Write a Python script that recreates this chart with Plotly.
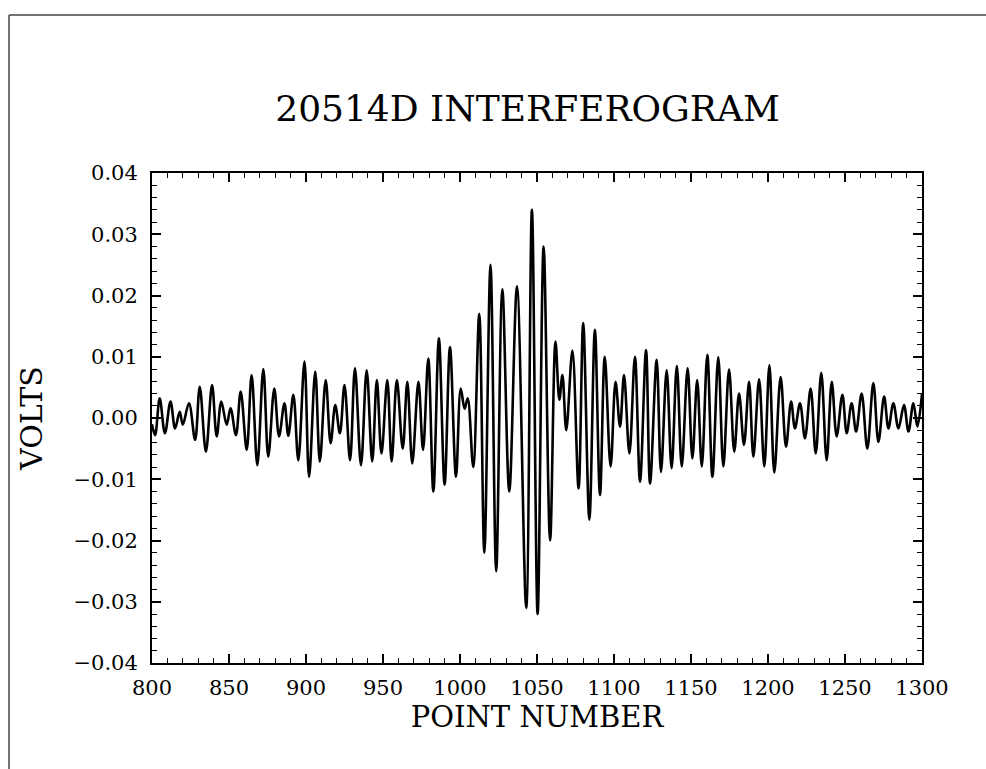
import plotly.graph_objects as go

# Extrema of the interferogram trace (point number, volts)
point_number = [
    800, 802, 805, 808.4, 812, 815, 818, 820, 824, 828, 831, 835, 839, 842, 845, 848.5,
    851, 854.5, 857.6, 861.5, 864.7, 868.4, 872.3, 875.5, 879.4, 882.5, 886, 888.5,
    891.8, 895, 899, 902, 906, 909, 912.8, 916, 919, 922, 925, 928.6, 931.8, 935.7,
    939.4, 943, 946, 949, 952.8, 955.6, 959, 962.8, 965.8, 969, 973, 976, 979.4,
    982.7, 986.3, 990, 993.5, 997.4, 1000.5, 1003, 1005, 1008.6, 1012.5, 1015.8,
    1019.8, 1023.5, 1027.5, 1032, 1037, 1043, 1046.7, 1050.4, 1054.3, 1058.5, 1062,
    1064.5, 1066.5, 1069, 1073, 1077, 1080, 1084, 1087.6, 1090.9, 1094, 1097.8, 1101,
    1103.9, 1106.5, 1110, 1113.6, 1116.9, 1120.8, 1123.4, 1127.7, 1130.5, 1134.2,
    1137.4, 1140.8, 1144, 1147.8, 1150.9, 1154, 1157, 1160.6, 1163.9, 1167.7, 1171,
    1174.7, 1178.1, 1181.2, 1184.4, 1187.7, 1190.5, 1194.2, 1197.6, 1200.9, 1204.1,
    1208.2, 1211.7, 1215, 1217.5, 1220.8, 1224, 1227.7, 1231, 1234.6, 1238.1, 1241.4,
    1244.6, 1248.3, 1251.1, 1254.3, 1257.2, 1260.8, 1264.5, 1268.4, 1271.7, 1275.4,
    1278.2, 1281.4, 1284.7, 1288.3, 1291.2, 1294.4, 1297, 1300,
]
volts = [
    -0.0010, -0.0028, 0.0032, -0.0025, 0.0027, -0.0017, 0.0010, -0.0011, 0.0024, -0.0036,
    0.0051, -0.0055, 0.0054, -0.0030, 0.0027, -0.0011, 0.0016, -0.0028, 0.0043, -0.0052,
    0.0070, -0.0077, 0.0080, -0.0063, 0.0048, -0.0030, 0.0024, -0.0029, 0.0038, -0.0069,
    0.0092, -0.0096, 0.0076, -0.0071, 0.0062, -0.0041, 0.0021, -0.0025, 0.0054, -0.0069,
    0.0081, -0.0077, 0.0078, -0.0071, 0.0062, -0.0058, 0.0062, -0.0071, 0.0062, -0.0050,
    0.0059, -0.0074, 0.0059, -0.0052, 0.0097, -0.0120, 0.0130, -0.0109, 0.0116, -0.0096,
    0.0048, 0.0015, 0.0032, -0.0080, 0.0170, -0.0220, 0.0250, -0.0250, 0.0210, -0.0120,
    0.0215, -0.0310, 0.0340, -0.0320, 0.0280, -0.0200, 0.0125, 0.0030, 0.0070, -0.0020,
    0.0110, -0.0115, 0.0155, -0.0166, 0.0144, -0.0126, 0.0100, -0.0079, 0.0059, -0.0014,
    0.0070, -0.0058, 0.0100, -0.0104, 0.0111, -0.0107, 0.0095, -0.0088, 0.0078, -0.0082,
    0.0085, -0.0079, 0.0081, -0.0066, 0.0062, -0.0079, 0.0103, -0.0096, 0.0099, -0.0079,
    0.0079, -0.0055, 0.0040, -0.0044, 0.0059, -0.0063, 0.0063, -0.0079, 0.0086, -0.0089,
    0.0067, -0.0047, 0.0027, -0.0017, 0.0024, -0.0033, 0.0048, -0.0058, 0.0074, -0.0069,
    0.0059, -0.0030, 0.0038, -0.0025, 0.0024, -0.0022, 0.0040, -0.0050, 0.0057, -0.0039,
    0.0035, -0.0017, 0.0024, -0.0017, 0.0021, -0.0022, 0.0024, -0.0014, 0.0040,
]

TITLE = "20514D INTERFEROGRAM"
X_TITLE = "POINT NUMBER"
Y_TITLE = "VOLTS"

SERIF = "DejaVu Serif, Liberation Serif, serif"

fig = go.Figure()
fig.add_trace(go.Scatter(
    x=point_number, y=volts, mode="lines",
    line=dict(color="black", width=2.6, shape="spline", smoothing=1.0),
    hoverinfo="skip", showlegend=False,
))

axis_common = dict(
    showgrid=False, zeroline=False, showline=True, linecolor="black", linewidth=2,
    mirror="allticks", ticks="inside", tickcolor="black", tickwidth=1.5, ticklen=9,
    tickfont=dict(family=SERIF, size=21, color="black"),
)

fig.update_xaxes(
    range=[800, 1300], dtick=50, tick0=800,
    minor=dict(dtick=10, ticks="inside", ticklen=5, tickcolor="black", tickwidth=1.2),
    title=dict(text=X_TITLE, font=dict(family=SERIF, size=29, color="black"), standoff=2),
    ticklabelstandoff=5,
    **axis_common,
)
fig.update_yaxes(
    range=[-0.04, 0.04], dtick=0.01, tick0=0, tickformat=".2f",
    minor=dict(dtick=0.002, ticks="inside", ticklen=5, tickcolor="black", tickwidth=1.2),
    title=dict(text=Y_TITLE, font=dict(family=SERIF, size=30, color="black"), standoff=22),
    ticklabelstandoff=8,
    **axis_common,
)

# outer page frame (left and top edges)
fig.add_shape(type="line", xref="paper", yref="paper", x0=-0.1857, x1=-0.1857,
              y0=-0.25, y1=1.3224, line=dict(color="#444", width=1.5))
fig.add_shape(type="line", xref="paper", yref="paper", x0=-0.1857, x1=1.1,
              y0=1.3224, y1=1.3224, line=dict(color="#444", width=1.5))

fig.update_layout(
    width=986, height=769,
    margin=dict(l=152, r=64, t=173, b=106),
    paper_bgcolor="white", plot_bgcolor="white",
    title=dict(text=TITLE, font=dict(family=SERIF, size=36, color="black"),
               x=0.535, xanchor="center", y=1 - 108 / 769, yanchor="middle"),
)

fig.write_html("out.html")
